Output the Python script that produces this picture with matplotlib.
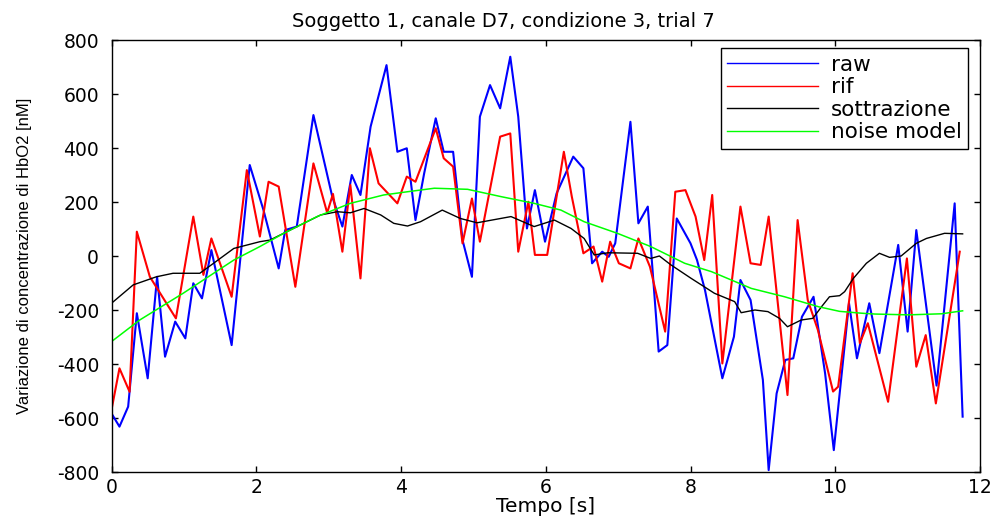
import matplotlib
matplotlib.use("Agg")
import matplotlib.pyplot as plt

# ---- data ----
raw_t = [0.00, 0.11, 0.23, 0.35, 0.50, 0.63, 0.74, 0.88, 1.02, 1.13, 1.25, 1.38, 1.66, 1.91,
         2.10, 2.31, 2.40, 2.56, 2.79, 3.05, 3.19, 3.32, 3.44, 3.58, 3.80, 3.95, 4.08, 4.20,
         4.32, 4.48, 4.59, 4.72, 4.85, 4.98, 5.09, 5.23, 5.37, 5.51, 5.62, 5.74, 5.85, 5.99,
         6.15, 6.38, 6.52, 6.64, 6.78, 6.87, 6.96, 7.17, 7.28, 7.41, 7.56, 7.68, 7.81, 8.00,
         8.09, 8.20, 8.44, 8.60, 8.69, 8.83, 9.00, 9.08, 9.19, 9.31, 9.42, 9.54, 9.70, 9.86,
         9.98, 10.19, 10.30, 10.47, 10.61, 10.87, 11.00, 11.12, 11.40, 11.65, 11.76]
raw_v = [-583, -632, -558, -212, -453, -77, -373, -243, -305, -101, -157, 22, -330, 337,
         170, -46, 96, 109, 522, 220, 109, 300, 226, 479, 707, 386, 399, 133,
         306, 510, 386, 386, 59, -77, 516, 633, 547, 738, 516, 102, 244, 53,
         232, 368, 325, -27, 16, -3, 47, 497, 121, 183, -354, -330, 139, 47,
         -15, -126, -453, -299, -89, -163, -459, -793, -509, -385, -379, -225, -151, -435,
         -719, -175, -379, -175, -360, 41, -280, 96, -480, 195, -595]

rif_t = [0.00, 0.11, 0.25, 0.35, 0.53, 0.89, 1.13, 1.27, 1.38, 1.66, 1.87, 2.05, 2.17, 2.31,
         2.54, 2.79, 2.98, 3.06, 3.19, 3.30, 3.44, 3.57, 3.69, 3.95, 4.08, 4.20, 4.48, 4.59,
         4.72, 4.85, 4.98, 5.09, 5.37, 5.51, 5.62, 5.76, 5.85, 6.02, 6.25, 6.36, 6.52, 6.66,
         6.78, 6.89, 7.01, 7.17, 7.28, 7.44, 7.65, 7.79, 7.93, 8.07, 8.19, 8.30, 8.44, 8.69,
         8.83, 8.97, 9.08, 9.34, 9.48, 9.62, 9.76, 9.97, 10.04, 10.24, 10.34, 10.45, 10.73,
         10.99, 11.12, 11.25, 11.39, 11.72]
rif_v = [-570, -416, -503, 90, -77, -231, 146, -70, 65, -151, 318, 72, 275, 257,
         -114, 343, 160, 230, 16, 263, -83, 399, 269, 195, 294, 275, 473, 362,
         331, 47, 213, 53, 442, 454, 16, 201, 4, 4, 386, 220, 10, 35,
         -95, 53, -27, -46, 65, -40, -280, 238, 244, 146, -15, 226, -398, 183,
         -27, -33, 146, -515, 133, -163, -274, -502, -484, -64, -323, -249, -540,
         -9, -410, -293, -546, 16]

sott_t = [0.00, 0.30, 0.62, 0.85, 1.22, 1.41, 1.69, 2.05, 2.19, 2.61, 2.89, 3.12, 3.30, 3.49,
          3.72, 3.90, 4.09, 4.27, 4.57, 4.82, 5.05, 5.52, 5.84, 6.12, 6.35, 6.53, 6.67, 6.86,
          7.27, 7.45, 7.57, 7.73, 8.01, 8.15, 8.33, 8.61, 8.70, 8.89, 9.07, 9.23, 9.34, 9.53,
          9.69, 9.81, 9.92, 10.06, 10.13, 10.25, 10.43, 10.61, 10.75, 10.91, 11.12, 11.26,
          11.51, 11.76]
sott_v = [-175, -107, -77, -64, -64, -27, 28, 53, 59, 115, 152, 164, 160, 176,
          152, 121, 111, 127, 170, 139, 123, 146, 109, 133, 102, 65, 4, 12,
          10, -9, 0, -33, -83, -107, -138, -169, -210, -200, -206, -231, -262, -237,
          -231, -188, -151, -147, -132, -83, -27, 10, -5, 0, 47, 65,
          84, 82]

noise_t = [0.00, 0.39, 0.99, 1.69, 2.05, 2.38, 2.84, 3.30, 3.76, 4.09, 4.46, 4.92, 5.38, 5.84,
           6.21, 6.53, 6.99, 7.45, 7.92, 8.29, 8.84, 9.30, 9.77, 10.06, 10.37, 10.55, 11.01,
           11.47, 11.76]
noise_v = [-317, -237, -138, -15, 35, 84, 146, 195, 226, 238, 251, 247, 220, 195,
           170, 127, 84, 35, -27, -58, -120, -151, -188, -205, -212, -215, -218,
           -214, -203]

series_labels = ["raw", "rif", "sottrazione", "noise model"]
x_ticks = [0, 2, 4, 6, 8, 10, 12]
y_ticks = [-800, -600, -400, -200, 0, 200, 400, 600, 800]

title_text = "Soggetto 1, canale D7, condizione 3, trial 7"
xlabel_text = "Tempo [s]"
ylabel_text = "Variazione di concentrazione di HbO2 [nM]"

# ---- figure ----
W, H = 994, 519
fig = plt.figure(figsize=(W / 100, H / 100), dpi=100)
ax = fig.add_axes([111.5 / W, (H - 472) / H, 868.5 / W, 432 / H])

ax.plot(raw_t, raw_v, color=(0, 0, 1), lw=1.5, label=series_labels[0])
ax.plot(rif_t, rif_v, color=(1, 0, 0), lw=1.5, label=series_labels[1])
ax.plot(sott_t, sott_v, color="black", lw=1.0, label=series_labels[2])
ax.plot(noise_t, noise_v, color=(0, 1, 0), lw=1.1, label=series_labels[3])

ax.set_xlim(0, 12)
ax.set_ylim(-800, 800)
ax.set_xticks(x_ticks)
ax.set_yticks(y_ticks)
ax.set_xticklabels([str(v) for v in x_ticks])
ax.set_yticklabels([str(v) for v in y_ticks])

font_main = "DejaVu Sans"
ax.tick_params(direction="in", length=4, width=1, top=True, right=True,
               labelsize=13.5, colors="black")
ax.tick_params(axis="y", pad=9)
ax.tick_params(axis="x", pad=4)
for lab in ax.get_xticklabels() + ax.get_yticklabels():
    lab.set_fontfamily(font_main)
for sp in ax.spines.values():
    sp.set_linewidth(1.0)
    sp.set_color("black")

ax.set_title(title_text, fontsize=14, family=font_main, pad=9, x=0.4508)
ax.set_xlabel(xlabel_text, fontsize=14.5, family=font_main, labelpad=0)
ax.set_ylabel(ylabel_text, fontsize=12, family="Liberation Sans", labelpad=18)

leg = ax.legend(loc="upper right", bbox_to_anchor=(0.986, 0.981), borderaxespad=0,
                fancybox=False, shadow=False, framealpha=1, edgecolor="black",
                prop={"family": font_main, "size": 15.5}, handlelength=4.2,
                handletextpad=0.6, labelspacing=0.12, borderpad=0.3)
leg.get_frame().set_linewidth(1.0)
for line in leg.get_lines():
    line.set_linewidth(1.0)

fig.savefig("out.png", dpi=100)
